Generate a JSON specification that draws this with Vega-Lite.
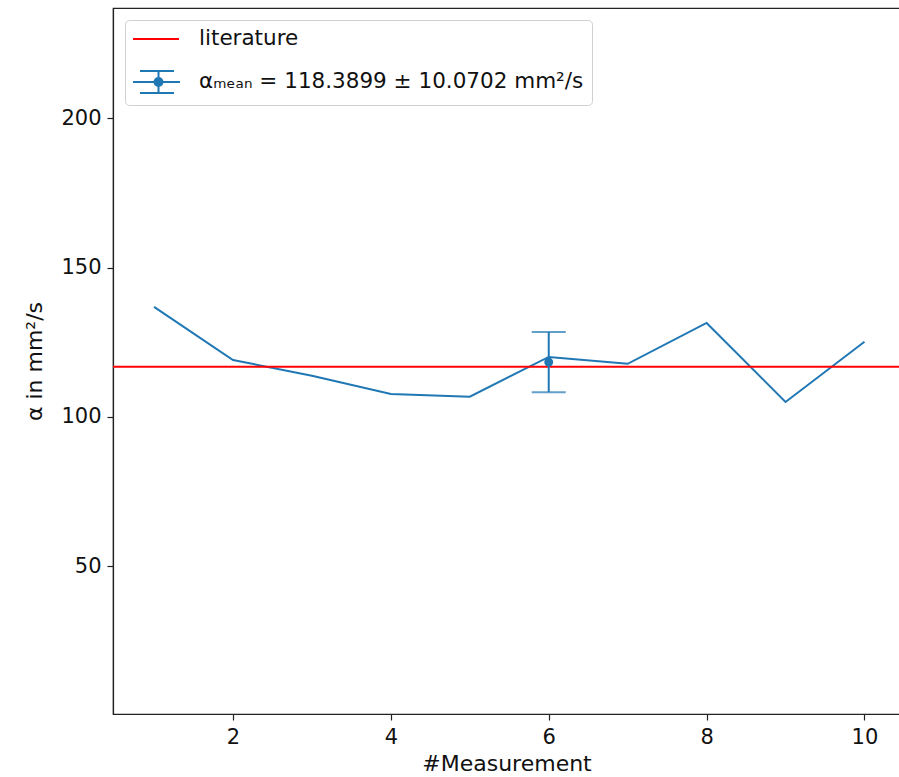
{
  "$schema": "https://vega.github.io/schema/vega-lite/v6.json",
  "autosize": {"type": "none"},
  "padding": {"left": 113, "top": 8, "right": 0, "bottom": 63},
  "width": 787,
  "height": 706,
  "background": "white",
  "config": {
    "font": "DejaVu Sans",
    "view": {"stroke": "#222", "strokeWidth": 1.2},
    "axis": {
      "grid": false,
      "domainColor": "#222",
      "domainWidth": 1.2,
      "tickColor": "#222",
      "tickSize": 6,
      "tickWidth": 1.2,
      "labelFont": "DejaVu Sans",
      "labelFontSize": 21,
      "labelColor": "#111",
      "titleFont": "DejaVu Sans",
      "titleFontSize": 22,
      "titleFontWeight": "normal",
      "titleColor": "#111",
      "labelPadding": 6
    },
    "legend": {
      "orient": "top-left",
      "offset": 12,
      "fillColor": "white",
      "strokeColor": "#d0d0d0",
      "cornerRadius": 4,
      "padding": 8,
      "labelFont": "DejaVu Sans",
      "labelFontSize": 21.5,
      "labelColor": "#111",
      "labelLimit": 600,
      "symbolSize": 400,
      "symbolStrokeWidth": 2,
      "labelOffset": 44,
      "rowPadding": 17,
      "title": null
    }
  },
  "datasets": {
    "measurements": [
      {"measurement": 1, "alpha": 136.9},
      {"measurement": 2, "alpha": 119.1},
      {"measurement": 3, "alpha": 113.8},
      {"measurement": 4, "alpha": 107.7},
      {"measurement": 5, "alpha": 106.8},
      {"measurement": 6, "alpha": 120.1},
      {"measurement": 7, "alpha": 117.8},
      {"measurement": 8, "alpha": 131.5},
      {"measurement": 9, "alpha": 105.0},
      {"measurement": 10, "alpha": 125.2}
    ],
    "literature": [
      {"series": "literature", "alpha": 116.8}
    ],
    "mean": [
      {"series": "αₘₑₐₙ = 118.3899 ± 10.0702 mm²/s", "measurement": 6, "mean": 118.3899, "low": 108.3197, "high": 128.4601}
    ]
  },
  "layer": [
    {
      "data": {"name": "measurements"},
      "mark": {"type": "line", "color": "#1f77b4", "strokeWidth": 2},
      "encoding": {
        "x": {
          "field": "measurement", "type": "quantitative",
          "scale": {"domain": [0.48, 10.45], "nice": false, "zero": false},
          "axis": {"values": [2, 4, 6, 8, 10], "format": "d", "title": "#Measurement", "titlePadding": 6}
        },
        "y": {
          "field": "alpha", "type": "quantitative",
          "scale": {"domain": [0.5, 237], "nice": false, "zero": false},
          "axis": {"values": [50, 100, 150, 200], "format": "d", "title": "α in mm²/s", "titlePadding": 14}
        }
      }
    },
    {
      "data": {"name": "literature"},
      "mark": {"type": "rule", "strokeWidth": 2},
      "encoding": {
        "y": {"field": "alpha", "type": "quantitative"},
        "color": {
          "field": "series", "type": "nominal",
          "scale": {"domain": ["literature", "αₘₑₐₙ = 118.3899 ± 10.0702 mm²/s"], "range": ["#ff0000", "#1f77b4"]},
          "legend": {
            "encode": {
              "symbols": {
                "update": {
                  "shape": {"signal": "datum.value == 'literature' ? 'M-1.1,0H3.5' : 'M-1.1,0H3.6M-0.4,-1.1H3M-0.4,1.1H3M1.45,-1.1V1.1M1.05,0A0.4,0.4 0 1,0 1.85,0A0.4,0.4 0 1,0 1.05,0Z'"},
                  "fill": {"signal": "datum.value == 'literature' ? 'transparent' : '#1f77b4'"},
                  "fillOpacity": {"value": 1},
                  "strokeWidth": {"value": 2}
                }
              }
            }
          }
        }
      }
    },
    {
      "data": {"name": "mean"},
      "mark": {"type": "rule", "strokeWidth": 2},
      "encoding": {
        "x": {"field": "measurement", "type": "quantitative"},
        "y": {"field": "low", "type": "quantitative"},
        "y2": {"field": "high"},
        "color": {"field": "series", "type": "nominal"}
      }
    },
    {
      "data": {"name": "mean"},
      "mark": {"type": "tick", "orient": "horizontal", "size": 34, "thickness": 2, "color": "#1f77b4"},
      "encoding": {
        "x": {"field": "measurement", "type": "quantitative"},
        "y": {"field": "low", "type": "quantitative"}
      }
    },
    {
      "data": {"name": "mean"},
      "mark": {"type": "tick", "orient": "horizontal", "size": 34, "thickness": 2, "color": "#1f77b4"},
      "encoding": {
        "x": {"field": "measurement", "type": "quantitative"},
        "y": {"field": "high", "type": "quantitative"}
      }
    },
    {
      "data": {"name": "mean"},
      "mark": {"type": "point", "filled": true, "size": 80, "opacity": 1, "color": "#1f77b4"},
      "encoding": {
        "x": {"field": "measurement", "type": "quantitative"},
        "y": {"field": "mean", "type": "quantitative"}
      }
    }
  ]
}
